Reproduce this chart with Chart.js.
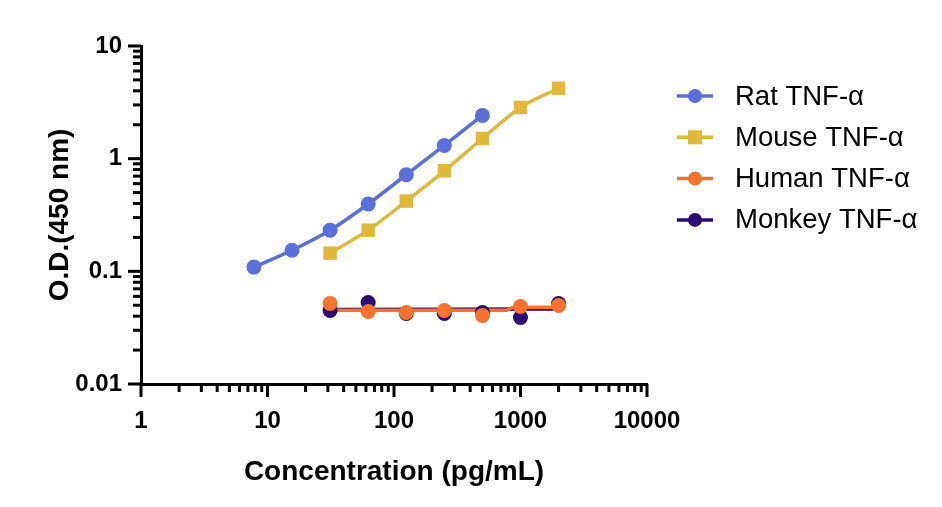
<!DOCTYPE html>
<html>
<head>
<meta charset="utf-8">
<script src="https://cdn.jsdelivr.net/npm/chart.js@4"></script>
<style>
	body { margin: 0; background: #fff; }
	#wrap { width: 942px; height: 507px; }
</style>
</head>
<body>
<div id="wrap"><canvas id="od-chart"></canvas></div>
<script>
// ---- data ----
const seriesNames = ["Rat TNF-α", "Mouse TNF-α", "Human TNF-α", "Monkey TNF-α"];
const seriesColors = ["#5b6fd8", "#e0b83c", "#f7722f", "#2c0b72"];
const seriesMarkers = ["circle", "rect", "circle", "circle"];

const concRat = [7.8125, 15.625, 31.25, 62.5, 125, 250, 500];
const odRat = [0.109, 0.154, 0.232, 0.396, 0.72, 1.31, 2.42];

const concMouse = [31.25, 62.5, 125, 250, 500, 1000, 2000];
const odMouse = [0.145, 0.232, 0.42, 0.78, 1.51, 2.85, 4.22];

const concHuman = [31.25, 62.5, 125, 250, 500, 1000, 2000];
const odHuman = [0.0518, 0.044, 0.0431, 0.0449, 0.0405, 0.0487, 0.0497];

const concMonkey = [31.25, 62.5, 125, 250, 500, 1000, 2000];
const odMonkey = [0.0449, 0.0528, 0.0422, 0.0422, 0.0431, 0.0389, 0.0518];

// flat fitted curves for human / monkey
const concHumanFit = [31.25, 780, 860, 2000];
const odHumanFit = [0.0452, 0.0452, 0.0478, 0.048];
const concMonkeyFit = [31.25, 2000];
const odMonkeyFit = [0.0458, 0.0462];

const xTickLabels = [1, 10, 100, 1000, 10000];
const yTickLabels = [0.01, 0.1, 1, 10];

const fontFamily = "'Liberation Sans', Arial, sans-serif";

//------------utility functions----------
const toPoints = (xs, ys) => xs.map((x, i) => ({ x: x, y: ys[i] }));
const isDecade = (v) => Math.abs(Math.log10(v) - Math.round(Math.log10(v))) < 1e-9;
const logTicks = (min, max) => {
	const out = [];
	for (let d = min; d < max * 1.0001; d *= 10) {
		for (let m = 1; m <= 9; m++) {
			const v = d * m;
			if (v > max * 1.0001) break;
			out.push(+v.toPrecision(6));
		}
	}
	return out;
};
//---------------------------------------

const mainSet = (idx, xs, ys) => ({
	label: seriesNames[idx],
	data: toPoints(xs, ys),
	showLine: idx < 2,
	borderColor: seriesColors[idx],
	backgroundColor: seriesColors[idx],
	borderWidth: 3.5,
	pointStyle: seriesMarkers[idx],
	pointRadius: seriesMarkers[idx] === "rect" ? 9.5 : 7.5,
	pointBorderWidth: 0,
	cubicInterpolationMode: "monotone",
});

const fitSet = (idx, xs, ys) => ({
	label: seriesNames[idx] + " fit",
	data: toPoints(xs, ys),
	showLine: true,
	borderColor: seriesColors[idx],
	borderWidth: 3.5,
	pointRadius: 0,
	tension: 0,
});

// axis ticks: long majors at decades, short minors in between
const tickPlugin = {
	id: "logTicks",
	afterDraw(chart) {
		const ctx = chart.ctx;
		const xs = chart.scales.x;
		const ys = chart.scales.y;
		const area = chart.chartArea;
		ctx.save();
		ctx.strokeStyle = "#000";
		ctx.lineWidth = 3;
		ctx.lineCap = "butt";
		xs.ticks.forEach((t) => {
			const px = xs.getPixelForValue(t.value);
			const len = isDecade(t.value) ? 13 : 8;
			ctx.beginPath();
			ctx.moveTo(px, area.bottom);
			ctx.lineTo(px, area.bottom + len);
			ctx.stroke();
		});
		ys.ticks.forEach((t) => {
			const py = ys.getPixelForValue(t.value);
			const len = isDecade(t.value) ? 13 : 8;
			ctx.beginPath();
			ctx.moveTo(area.left, py);
			ctx.lineTo(area.left - len, py);
			ctx.stroke();
		});
		ctx.restore();
	},
};

// legend with line + marker like the reference
const legendPlugin = {
	id: "lineLegend",
	afterDraw(chart) {
		const ctx = chart.ctx;
		const area = chart.chartArea;
		const x0 = area.right + 30;
		ctx.save();
		ctx.font = "27.5px " + fontFamily;
		ctx.textBaseline = "middle";
		seriesNames.forEach((name, i) => {
			const y = area.top + 50 + i * 41.3;
			ctx.strokeStyle = seriesColors[i];
			ctx.fillStyle = seriesColors[i];
			ctx.lineWidth = 3.5;
			ctx.beginPath();
			ctx.moveTo(x0, y);
			ctx.lineTo(x0 + 36, y);
			ctx.stroke();
			ctx.beginPath();
			if (seriesMarkers[i] === "rect") {
				ctx.rect(x0 + 18 - 7, y - 7, 14, 14);
			} else {
				ctx.arc(x0 + 18, y, 7, 0, Math.PI * 2);
			}
			ctx.fill();
			ctx.fillStyle = "#000";
			ctx.fillText(name, x0 + 58, y + 1);
		});
		ctx.restore();
	},
};

const axisFont = { family: fontFamily, size: 24, weight: "bold" };
const titleFont = { family: fontFamily, size: 28, weight: "bold" };

const config = {
	type: "scatter",
	data: {
		datasets: [
			mainSet(0, concRat, odRat),
			mainSet(1, concMouse, odMouse),
			mainSet(2, concHuman, odHuman),
			mainSet(3, concMonkey, odMonkey),
			fitSet(2, concHumanFit, odHumanFit),
			fitSet(3, concMonkeyFit, odMonkeyFit),
		],
	},
	options: {
		responsive: true,
		maintainAspectRatio: false,
		animation: false,
		layout: { padding: { top: 46, right: 295, bottom: 0, left: 0 } },
		scales: {
			x: {
				type: "logarithmic",
				min: xTickLabels[0],
				max: xTickLabels[xTickLabels.length - 1],
				afterBuildTicks: (scale) => {
					scale.ticks = logTicks(xTickLabels[0], xTickLabels[xTickLabels.length - 1]).map((v) => ({ value: v }));
				},
				afterFit: (scale) => { scale.height = 123; },
				grid: { display: true, drawOnChartArea: false, drawTicks: false },
				border: { display: true, color: "#000", width: 3 },
				ticks: {
					autoSkip: false,
					maxRotation: 0,
					padding: 23,
					color: "#000",
					font: axisFont,
					callback: (v) => (xTickLabels.includes(+(+v).toPrecision(6)) ? String(v) : ""),
				},
				title: {
					display: true,
					text: "Concentration (pg/mL)",
					color: "#000",
					font: titleFont,
					padding: { top: 0, bottom: 18 },
				},
			},
			y: {
				type: "logarithmic",
				min: yTickLabels[0],
				max: yTickLabels[yTickLabels.length - 1],
				afterBuildTicks: (scale) => {
					scale.ticks = logTicks(yTickLabels[0], yTickLabels[yTickLabels.length - 1]).map((v) => ({ value: v }));
				},
				afterFit: (scale) => { scale.width = 141; },
				grid: { display: true, drawOnChartArea: false, drawTicks: false },
				border: { display: true, color: "#000", width: 3 },
				ticks: {
					autoSkip: false,
					padding: 19,
					color: "#000",
					font: axisFont,
					callback: (v) => {
						const hit = yTickLabels.find((t) => Math.abs(t - v) < t * 1e-6);
						return hit !== undefined ? String(hit) : "";
					},
				},
				title: {
					display: true,
					text: "O.D.(450 nm)",
					color: "#000",
					font: titleFont,
					padding: { top: 43, bottom: 0 },
				},
			},
		},
		plugins: {
			legend: { display: false },
			tooltip: { enabled: false },
		},
	},
	plugins: [tickPlugin, legendPlugin],
};

const odChart = new Chart(document.getElementById("od-chart"), config);
</script>
</body>
</html>
